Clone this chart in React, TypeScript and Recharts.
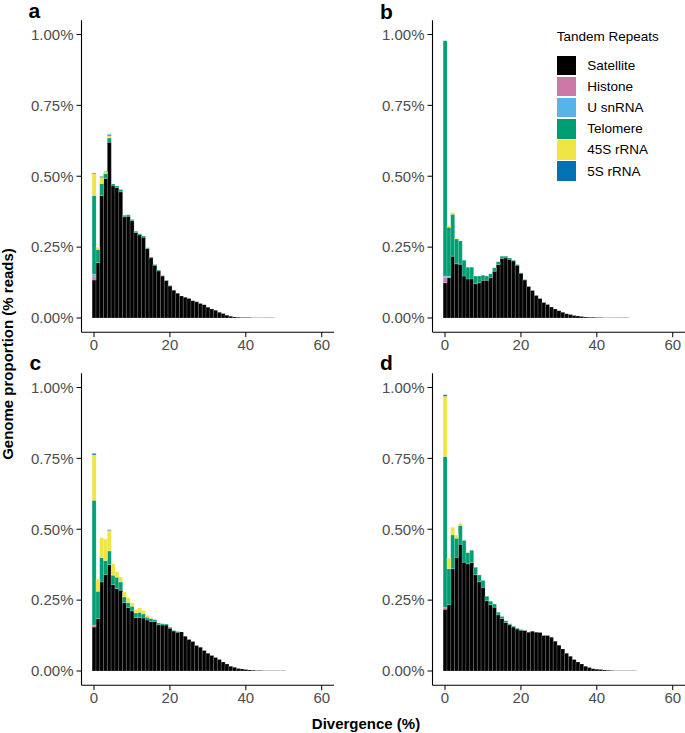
import { BarChart, Bar, XAxis, YAxis } from 'recharts';

const repeatTypes = ['Satellite', 'Histone', 'U snRNA', 'Telomere', '45S rRNA', '5S rRNA'];
const repeatColors = ['#000000', '#CC79A7', '#56B4E9', '#009E73', '#F0E442', '#0072B2'];
const divergenceTicks = [0, 20, 40, 60];
const proportionTicks = [0, 0.25, 0.5, 0.75, 1];

// panel a (% reads per 1% divergence bin)
const aSatellite = [0.134, 0.196, 0.432, 0.492, 0.62, 0.466, 0.46, 0.445, 0.357, 0.359, 0.343, 0.302, 0.293, 0.285, 0.245, 0.212, 0.186, 0.166, 0.148, 0.132, 0.113, 0.098, 0.087, 0.078, 0.073, 0.069, 0.061, 0.057, 0.051, 0.047, 0.038, 0.032, 0.027, 0.02, 0.016, 0.01, 0.006, 0.004, 0.003, 0.002, 0.002, 0.0015, 0.001, 0.001, 0.001, 0.0008, 0.0006, 0.0005, 0.0004];
const aHistone = [0.011];
const aUsnRNA = [0.009];
const aTelomere = [0.278, 0.046, 0.042, 0.018, 0.015, 0.007, 0.006, 0.008, 0.005, 0.005, 0.004, 0.004, 0.004, 0.004, 0.003, 0.003, 0.003, 0.003, 0.002, 0.002, 0.002];
const a45S = [0.077, 0.008, 0.022, 0.005, 0.008];
const a5S = [0.002, 0, 0.003, 0.002, 0.004];

// panel b
const bSatellite = [0.124, 0.143, 0.218, 0.191, 0.19, 0.148, 0.138, 0.138, 0.121, 0.124, 0.133, 0.133, 0.142, 0.165, 0.189, 0.21, 0.212, 0.207, 0.201, 0.186, 0.158, 0.134, 0.111, 0.097, 0.079, 0.069, 0.055, 0.048, 0.039, 0.032, 0.026, 0.02, 0.015, 0.012, 0.009, 0.007, 0.005, 0.004, 0.003, 0.0025, 0.002, 0.0015, 0.001, 0.001, 0.001, 0.0008, 0.0007, 0.0006, 0.0005, 0.0004, 0.0004, 0.0003];
const bHistone = [0.018];
const bUsnRNA = [0.006, 0.004];
const bTelomere = [0.83, 0.173, 0.148, 0.088, 0.082, 0.056, 0.041, 0.041, 0.027, 0.024, 0.018, 0.015, 0.014, 0.012, 0.009, 0.008, 0.006, 0.005, 0.003, 0.003, 0.002, 0.002];
const b45S = [0, 0.005, 0.006, 0.002];
const b5S = [0];

// panel c
const cSatellite = [0.155, 0.185, 0.314, 0.34, 0.376, 0.305, 0.291, 0.285, 0.241, 0.224, 0.212, 0.189, 0.189, 0.187, 0.18, 0.175, 0.175, 0.163, 0.162, 0.162, 0.151, 0.141, 0.137, 0.138, 0.123, 0.111, 0.104, 0.09, 0.084, 0.072, 0.063, 0.055, 0.048, 0.041, 0.032, 0.025, 0.017, 0.013, 0.009, 0.007, 0.0055, 0.004, 0.003, 0.002, 0.0015, 0.0012, 0.001, 0.001, 0.0008, 0.0006, 0.0005, 0.0004];
const cHistone = [0.007];
const cUsnRNA = [0];
const cTelomere = [0.44, 0.096, 0.086, 0.05, 0.047, 0.033, 0.04, 0.029, 0.02, 0.018, 0.016, 0.016, 0.018, 0.014, 0.01, 0.01, 0.007, 0.006, 0.005, 0.004, 0.003, 0.002, 0.002];
const c45S = [0.16, 0.043, 0.07, 0.075, 0.073, 0.04, 0.019, 0.018, 0.018, 0.016, 0.012, 0.011, 0.015, 0.012, 0.006, 0.003, 0.001];
const c5S = [0.005, 0, 0, 0, 0.002];

// panel d
const dSatellite = [0.218, 0.234, 0.361, 0.401, 0.447, 0.384, 0.378, 0.383, 0.34, 0.315, 0.295, 0.248, 0.234, 0.225, 0.198, 0.185, 0.171, 0.163, 0.155, 0.148, 0.144, 0.143, 0.137, 0.14, 0.137, 0.136, 0.125, 0.125, 0.119, 0.105, 0.091, 0.078, 0.063, 0.052, 0.041, 0.032, 0.025, 0.017, 0.012, 0.008, 0.0065, 0.005, 0.004, 0.003, 0.002, 0.001, 0.001, 0.001, 0.0008, 0.0006, 0.0005, 0.0004, 0, 0.0004, 0.0003];
const dHistone = [0.007];
const dUsnRNA = [0];
const dTelomere = [0.532, 0.127, 0.119, 0.067, 0.066, 0.077, 0.04, 0.043, 0.026, 0.024, 0.024, 0.016, 0.012, 0.011, 0.009, 0.007, 0.006, 0.004, 0.003, 0.003, 0.002];
const d45S = [0.212, 0.037, 0.027, 0.012, 0.008, 0.003, 0.003];
const d5S = [0.005];

function buildRows(series: number[][]) {
  const n = series[0].length;
  const rows = [];
  for (let i = 0; i < n; i++) {
    const row: Record<string, number> = { x: i };
    series.forEach((s, k) => {
      row['k' + k] = s[i] ?? 0;
    });
    rows.push(row);
  }
  return rows;
}

const FONT = '"Liberation Sans", Arial, Helvetica, sans-serif';
const PLOT_W = 252.75;
const CHART_H = 360.2;

const panels = [
  { id: 'a', rows: buildRows([aSatellite, aHistone, aUsnRNA, aTelomere, a45S, a5S]), left: 0, top: 0 },
  { id: 'b', rows: buildRows([bSatellite, bHistone, bUsnRNA, bTelomere, b45S, b5S]), left: 350.7, top: 0 },
  { id: 'c', rows: buildRows([cSatellite, cHistone, cUsnRNA, cTelomere, c45S, c5S]), left: 0, top: 353 },
  { id: 'd', rows: buildRows([dSatellite, dHistone, dUsnRNA, dTelomere, d45S, d5S]), left: 350.7, top: 353 },
];

const tickStyle = { fontSize: 15, fill: '#4D4D4D', fontFamily: FONT };

function Panel({ rows, left, top }: { rows: Record<string, number>[]; left: number; top: number }) {
  return (
    <div style={{ position: 'absolute', left, top }}>
      <BarChart
        width={81.5 + PLOT_W}
        height={CHART_H}
        data={rows}
        margin={{ top: 20.3, right: 0, bottom: 3, left: 0 }}
        barCategoryGap={0}
        barGap={0}
      >
        <XAxis
          type="number"
          dataKey="x"
          domain={[-3.3, 63.3]}
          ticks={divergenceTicks}
          interval={0}
          allowDataOverflow
          height={25}
          tickSize={5}
          tickMargin={2}
          tick={tickStyle}
          tickLine={{ stroke: '#000' }}
          axisLine={{ stroke: '#000', strokeWidth: 1.1 }}
        />
        <YAxis
          type="number"
          domain={[-0.05, 1.05]}
          ticks={proportionTicks}
          interval={0}
          allowDataOverflow
          width={81.5}
          tickSize={5}
          tickMargin={3}
          tick={tickStyle}
          tickFormatter={(v: number) => v.toFixed(2) + '%'}
          tickLine={{ stroke: '#000' }}
          axisLine={{ stroke: '#000', strokeWidth: 1.1 }}
        />
        {repeatTypes.map((name, i) => (
          <Bar
            key={name}
            dataKey={'k' + i}
            name={name}
            stackId="r"
            fill={repeatColors[i]}
            stroke="#ffffff"
            strokeWidth={0.2}
            isAnimationActive={false}
          />
        ))}
      </BarChart>
    </div>
  );
}

function RepeatLegend() {
  return (
    <div style={{ position: 'absolute', left: 556.7, top: 28, fontFamily: FONT, color: '#000' }}>
      <div style={{ fontSize: 13.5, lineHeight: '17px', height: 27 }}>Tandem Repeats</div>
      {repeatTypes.map((name, i) => (
        <div key={name} style={{ display: 'flex', alignItems: 'center', height: 21.1 }}>
          <div style={{ width: 19.5, height: 19.5, background: repeatColors[i] }} />
          <div style={{ marginLeft: 11, fontSize: 13.5 }}>{name}</div>
        </div>
      ))}
    </div>
  );
}

export default function App() {
  return (
    <div style={{ position: 'absolute', left: 0, top: 0, width: 685, height: 733, overflow: 'hidden', background: '#fff' }}>
      {panels.map((p) => (
        <Panel key={p.id} rows={p.rows} left={p.left} top={p.top} />
      ))}
      <svg width={685} height={733} style={{ position: 'absolute', left: 0, top: 0, pointerEvents: 'none' }}>
        <g fontFamily={FONT} fontWeight="bold" fontSize={21} fill="#000">
          <text x={28.5} y={18}>a</text>
          <text x={380} y={18.5}>b</text>
          <text x={29.5} y={370}>c</text>
          <text x={380} y={370}>d</text>
        </g>
        <text x={12.5} y={354} transform="rotate(-90, 12.5, 354)" textAnchor="middle" fontFamily={FONT} fontWeight="bold" fontSize={15}>
          Genome proportion (% reads)
        </text>
        <text x={366} y={728.5} textAnchor="middle" fontFamily={FONT} fontWeight="bold" fontSize={15}>
          Divergence (%)
        </text>
      </svg>
      <RepeatLegend />
    </div>
  );
}
